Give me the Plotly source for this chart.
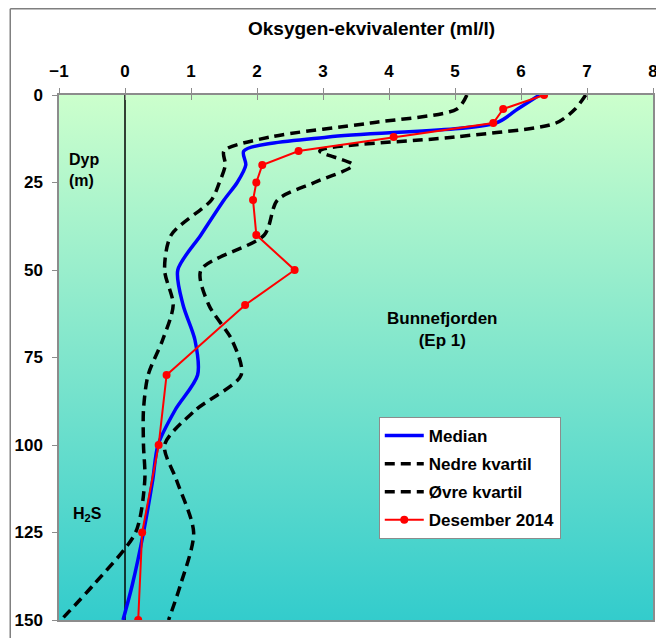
import plotly.graph_objects as go

# ---------------- data ----------------
depth_stat = [0, 4, 8, 12, 16, 20, 25, 30, 40, 50, 60, 70, 80, 90, 100, 110, 125, 140, 150]
median = [6.28, 5.95, 5.62, 3.08, 1.80, 1.83, 1.70, 1.50, 1.15, 0.80, 0.88, 1.06, 1.10, 0.76, 0.50, 0.42, 0.28, 0.11, -0.03]
nedre = [5.18, 5.03, 3.72, 2.20, 1.50, 1.52, 1.43, 1.31, 0.70, 0.60, 0.73, 0.57, 0.35, 0.28, 0.28, 0.30, 0.16, -0.48, -0.97]
ovre = [6.98, 6.82, 6.53, 5.00, 2.95, 3.45, 2.87, 2.31, 2.11, 1.15, 1.27, 1.62, 1.76, 1.07, 0.60, 0.78, 1.04, 0.84, 0.66]

depth_2014 = [0, 4, 8, 12, 16, 20, 25, 30, 40, 50, 60, 80, 100, 125, 150]
des2014 = [6.35, 5.73, 5.58, 4.07, 2.63, 2.08, 1.99, 1.94, 1.99, 2.57, 1.82, 0.63, 0.51, 0.26, 0.20]

x_ticks = [-1, 0, 1, 2, 3, 4, 5, 6, 7, 8]
depth_ticks = [0, 25, 50, 75, 100, 125, 150]
X_RANGE = [-1, 8]
DEPTH_RANGE = [0, 150]

FONT = "Arial, Liberation Sans, sans-serif"
GRAY = "#8c8c8c"

# figure geometry (figure pixels; page has an 8px body margin)
W, H = 656, 630
L, R, T, B = 50, 6, 87, 18
PW, PH = W - L - R, H - T - B


def px(x):
    return (x - L) / PW


def py(y):
    return (H - B - y) / PH


fig = go.Figure()

# background gradient
fig.add_trace(go.Scatter(
    x=[X_RANGE[0], X_RANGE[1], X_RANGE[1], X_RANGE[0], X_RANGE[0]],
    y=[DEPTH_RANGE[0], DEPTH_RANGE[0], DEPTH_RANGE[1], DEPTH_RANGE[1], DEPTH_RANGE[0]],
    mode="lines", line=dict(width=0), fill="toself",
    fillgradient=dict(type="vertical", start=DEPTH_RANGE[0], stop=DEPTH_RANGE[1],
                      colorscale=[[0, "#CCFFCC"], [1, "#33CCCC"]]),
    hoverinfo="skip", showlegend=False))

# zero line
fig.add_trace(go.Scatter(x=[0, 0], y=DEPTH_RANGE, mode="lines",
                         line=dict(color="black", width=1.5),
                         hoverinfo="skip", showlegend=False))

fig.add_trace(go.Scatter(x=median, y=depth_stat, name="Median", mode="lines",
                         line=dict(color="#0000FF", width=3.5, shape="spline", smoothing=0.8),
                         legendgroup="a"))
fig.add_trace(go.Scatter(x=nedre, y=depth_stat, name="Nedre kvartil", mode="lines",
                         line=dict(color="black", width=3.5, dash="10px,6px", shape="spline", smoothing=0.8),
                         legendgroup="b"))
fig.add_trace(go.Scatter(x=ovre, y=depth_stat, name="Øvre kvartil", mode="lines",
                         line=dict(color="black", width=3.5, dash="10px,6px", shape="spline", smoothing=0.8),
                         legendgroup="c"))
fig.add_trace(go.Scatter(x=des2014, y=depth_2014, name="Desember 2014", mode="lines+markers",
                         line=dict(color="#FF0000", width=2),
                         marker=dict(color="#FF0000", size=8),
                         legendgroup="d"))

fig.update_layout(
    width=W, height=H,
    margin=dict(l=L, r=R, t=T, b=B),
    paper_bgcolor="white", plot_bgcolor="#CCFFCC",
    font=dict(family=FONT, color="black"),
    showlegend=True,
    legend=dict(x=px(373), y=py(409), xanchor="left", yanchor="top",
                bgcolor="white", bordercolor=GRAY, borderwidth=1,
                font=dict(family=FONT, size=17, weight="bold"),
                itemwidth=39, tracegroupgap=3, traceorder="grouped"),
    xaxis=dict(side="top", range=X_RANGE, tickvals=x_ticks, ticks="outside", ticklen=5,
               tickcolor=GRAY, showline=True, linecolor=GRAY, linewidth=1.5, mirror=True,
               showgrid=False, zeroline=False, ticklabelstandoff=4,
               tickfont=dict(family=FONT, size=17, weight="bold")),
    xaxis2=dict(overlaying="x", side="top", range=X_RANGE, tickvals=x_ticks, ticks="inside",
                ticklen=5, tickcolor=GRAY, showticklabels=False, showgrid=False, zeroline=False,
                showline=False),
    yaxis=dict(range=DEPTH_RANGE[::-1], tickvals=depth_ticks, ticks="outside", ticklen=5,
               tickcolor=GRAY, showline=True, linecolor=GRAY, linewidth=1.5, mirror=True,
               showgrid=False, zeroline=False, ticklabelstandoff=6,
               tickfont=dict(family=FONT, size=17, weight="bold")),
)

# dummy trace to show xaxis2 ticks
fig.add_trace(go.Scatter(x=[None], y=[None], xaxis="x2", showlegend=False, hoverinfo="skip"))

annots = [
    dict(text="<b>Oksygen-ekvivalenter (ml/l)</b>", x=px(366), y=py(20), size=19, xanchor="center"),
    dict(text="<b>Dyp<br>(m)</b>", x=px(58), y=py(162), size=16, xanchor="left"),
    dict(text="<b>H<sub>2</sub>S</b>", x=px(62), y=py(506), size=16, xanchor="left"),
    dict(text="<b>Bunnefjorden<br>(Ep 1)</b>", x=px(437), y=py(321), size=17, xanchor="center"),
]
for a in annots:
    fig.add_annotation(text=a["text"], x=a["x"], y=a["y"], xref="paper", yref="paper",
                       xanchor=a["xanchor"], yanchor="middle", showarrow=False,
                       align="center" if a["xanchor"] == "center" else "left",
                       font=dict(family=FONT, size=a["size"], color="black"))

# outer frame (left + top edges)
fig.add_shape(type="line", xref="paper", yref="paper", x0=px(0.75), x1=px(0.75), y0=py(0.75), y1=py(H),
              line=dict(color="#7f7f7f", width=1.5))
fig.add_shape(type="line", xref="paper", yref="paper", x0=px(0.75), x1=px(W), y0=py(0.75), y1=py(0.75),
              line=dict(color="#7f7f7f", width=1.5))

fig.write_html("out.html")
